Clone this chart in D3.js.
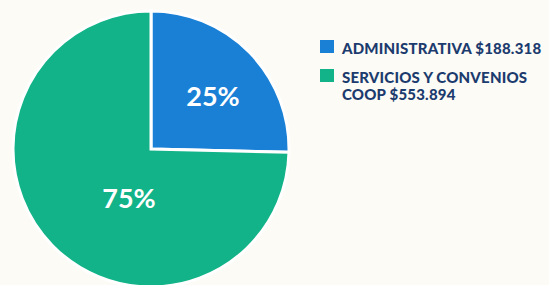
<!DOCTYPE html>
<html><head><meta charset="utf-8">
<script src="https://cdn.jsdelivr.net/npm/d3@7"></script>
<style>
html,body{margin:0;padding:0;background:#fdfbf6;}
svg{display:block;}
</style></head>
<body><svg id="c" width="549" height="285"></svg>
<script>
const categories = ["ADMINISTRATIVA", "SERVICIOS Y CONVENIOS COOP"];
const values = [188318, 553894];
const percentLabels = ["25%", "75%"];
const legendLines = [["ADMINISTRATIVA $188.318"], ["SERVICIOS Y CONVENIOS", "COOP $553.894"]];
const colors = ["#1a80d6", "#12b388"];

const svg = d3.select("#c");
const cx = 151, cy = 149, r = 138;
const g = svg.append("g").attr("transform", `translate(${cx},${cy})`);
const pie = d3.pie().sort(null).value(d => d)(values);
const arc = d3.arc().innerRadius(0).outerRadius(r);
g.selectAll("path").data(pie).join("path")
  .attr("d", arc).attr("fill", (d,i) => colors[i])
  .attr("stroke", "#ffffff").attr("stroke-width", 3).attr("stroke-linejoin","miter");
g.selectAll("text.p").data(pie).join("text")
  .attr("class","p")
  .attr("x", (d,i) => i===0 ? 62 : -22)
  .attr("y", (d,i) => i===0 ? -54 : 48)
  .attr("text-anchor","middle").attr("dominant-baseline","central")
  .attr("fill","#ffffff").attr("font-family","Lato, 'Open Sans', sans-serif")
  .attr("font-weight","bold").attr("font-size", 27)
  .text((d,i) => percentLabels[i]);

const lg = svg.append("g");
const ys = [40, 69];
legendLines.forEach((lines, i) => {
  lg.append("rect").attr("x", 320).attr("y", ys[i]).attr("width", 14).attr("height", 13).attr("fill", colors[i]);
  lines.forEach((t, j) => {
    lg.append("text").attr("x", 342).attr("y", ys[i] + 8 + j*17).attr("dominant-baseline","central")
      .attr("fill","#1c3b6e").attr("font-family","Lato, 'Open Sans', sans-serif")
      .attr("font-weight","900").attr("font-size", 15).attr("letter-spacing", 0.2).text(t);
  });
});
</script></body></html>
